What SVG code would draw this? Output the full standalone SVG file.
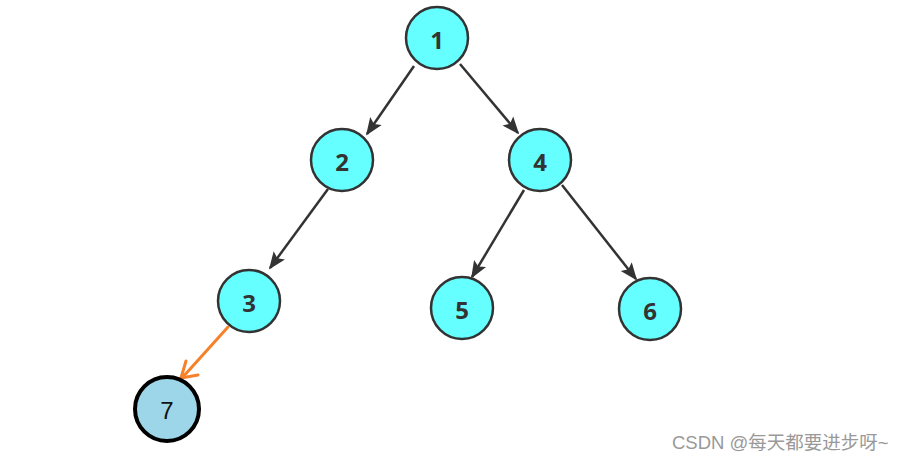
<svg xmlns="http://www.w3.org/2000/svg" width="910" height="461" viewBox="0 0 910 461">
<style>
.n circle{fill:#66FFFF;stroke:#333;stroke-width:2.5}
.n text{font-family:"Open Sans","DejaVu Sans",sans-serif;font-weight:bold;font-size:24px;fill:#333;text-anchor:middle;dominant-baseline:central}
.e{stroke:#333;stroke-width:2.5;fill:none;marker-end:url(#ah)}
</style>
<defs>
<marker id="ah" viewBox="0 0 10 10" refX="9" refY="5" markerWidth="7" markerHeight="7" orient="auto" markerUnits="strokeWidth">
<path d="M0,1 L10,5 L0,9 L2,5 Z" fill="#333"/>
</marker>
</defs>
<rect width="910" height="461" fill="#fff"/>
<g id="connectors">
<line class="e" x1="414" y1="66" x2="367" y2="134"/>
<line class="e" x1="460" y1="64" x2="518" y2="133"/>
<line class="e" x1="328" y1="189" x2="270" y2="268"/>
<line class="e" x1="524" y1="190" x2="472" y2="277"/>
<line class="e" x1="562" y1="185" x2="636" y2="279"/>
<g stroke="#F5822A" stroke-width="3" fill="none" stroke-linecap="round" stroke-linejoin="round">
<line x1="228" y1="327" x2="182" y2="378"/>
<path d="M186,361 L181,378 L198,375"/>
</g>
</g>
<g id="n1" class="n"><circle cx="437" cy="38" r="31"/><text x="437" y="39">1</text></g>
<g id="n2" class="n"><circle cx="342" cy="160" r="31"/><text x="342" y="161">2</text></g>
<g id="n4" class="n"><circle cx="540" cy="160" r="31"/><text x="540" y="161">4</text></g>
<g id="n3" class="n"><circle cx="249" cy="301" r="31"/><text x="249" y="302">3</text></g>
<g id="n5" class="n"><circle cx="462" cy="308" r="31"/><text x="462" y="309">5</text></g>
<g id="n6" class="n"><circle cx="650" cy="309" r="31"/><text x="650" y="310">6</text></g>
<g id="n7"><circle cx="167" cy="409" r="32" fill="#9DD6E8" stroke="#000" stroke-width="4"/><text x="167" y="410" font-family="'Liberation Sans',sans-serif" font-size="24" fill="#111" text-anchor="middle" dominant-baseline="central">7</text></g>
<text x="672" y="449" font-family="'Liberation Sans','Noto Sans CJK SC',sans-serif" font-size="18.5" fill="#999">CSDN @每天都要进步呀~</text>
</svg>
